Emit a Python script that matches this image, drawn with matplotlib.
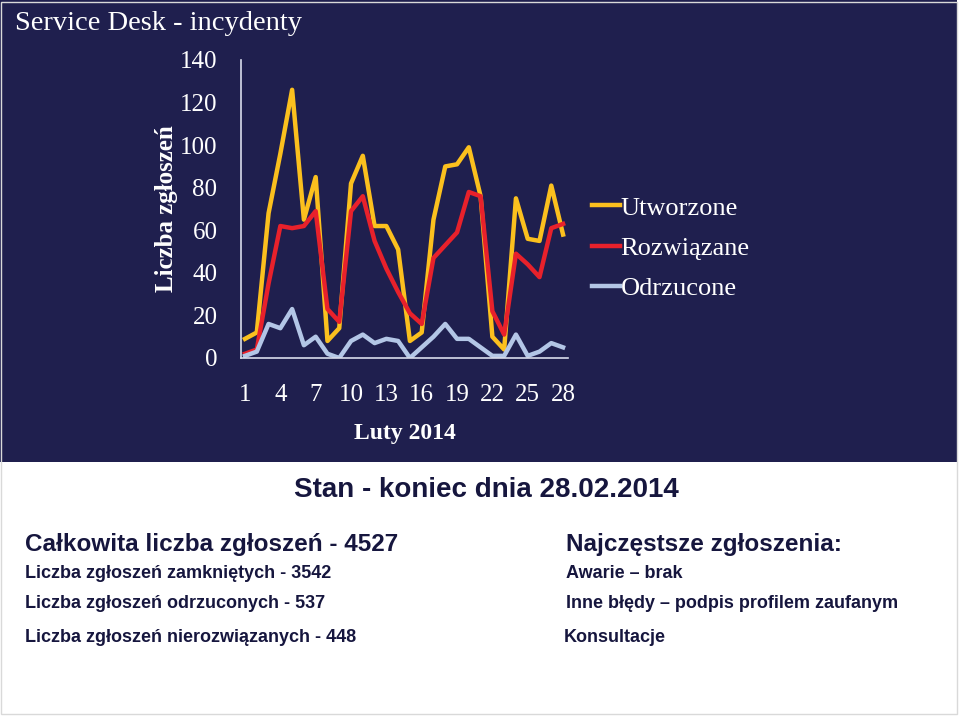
import matplotlib.pyplot as plt
from matplotlib.patches import Rectangle

# Dane - luty 2014
dni = list(range(1, 29))
utworzone = [9, 12, 68, 96, 126, 65, 85, 8, 14, 82, 95, 62, 62, 51, 8, 12, 65, 90, 91, 99, 76, 10, 4, 75, 56, 55, 81, 58]
rozwiazane = [2, 4, 35, 62, 61, 62, 69, 23, 17, 69, 76, 55, 42, 31, 21, 16, 47, 53, 59, 78, 76, 22, 11, 49, 44, 38, 61, 63]
odrzucone = [1, 3, 16, 14, 23, 6, 10, 2, 0, 8, 11, 7, 9, 8, 0, 5, 10, 16, 9, 9, 5, 1, 1, 11, 1, 3, 7, 5]
x_ticks = [1, 4, 7, 10, 13, 16, 19, 22, 25, 28]
y_ticks = [0, 20, 40, 60, 80, 100, 120, 140]

bg = "#1f1f4e"
navy = "#16163e"
serif = ["Liberation Serif", "DejaVu Serif"]
sans = ["Liberation Sans", "DejaVu Sans"]

W, H = 960, 716
fig = plt.figure(figsize=(9.6, 7.16), dpi=100)
fig.patch.set_facecolor("white")

# dark slide panel on top
fig.patches.append(Rectangle((0, 1 - 462 / H), 957 / W, 462 / H, transform=fig.transFigure,
                             facecolor=bg, edgecolor="none", zorder=0))
# thin frame around the slide
fig.patches.append(Rectangle((1 / W, 2 / H), 956 / W, 712 / H, transform=fig.transFigure,
                             facecolor="none", edgecolor="#d9d9d9", lw=1, zorder=0))

fig.text(15 / W, 1 - 23 / H, "Service Desk - incydenty", color="white", fontsize=20.5,
         family=serif, va="center", ha="left")

# chart
ax = fig.add_axes([241 / W, 1 - 358 / H, 327 / W, 298 / H])
ax.set_zorder(5)
ax.set_facecolor("none")
ax.plot(dni, utworzone, color="#fbc01e", lw=3.2, label="Utworzone")
ax.plot(dni, rozwiazane, color="#e8212b", lw=3.2, label="Rozwiązane")
ax.plot(dni, odrzucone, color="#b3c6e6", lw=3.2, label="Odrzucone")
ax.set_xlim(0.66, 28.42)
ax.set_ylim(0, 140)
ax.set_xticks(x_ticks)
ax.set_yticks(y_ticks)
for s in ["top", "right"]:
    ax.spines[s].set_visible(False)
for s in ["left", "bottom"]:
    ax.spines[s].set_color("#d8dcec")
    ax.spines[s].set_linewidth(1.2)
ax.tick_params(length=0, colors="white", labelsize=18)
ax.tick_params(axis="x", pad=19)
ax.tick_params(axis="y", pad=17)
for lbl in ax.get_xticklabels() + ax.get_yticklabels():
    lbl.set_family(serif)
ax.set_xlabel("Luty 2014", color="white", fontsize=17, fontweight="bold", family=serif, labelpad=12)
ax.set_ylabel("Liczba zgłoszeń", color="white", fontsize=18, fontweight="bold", family=serif, labelpad=1.5)

leg = ax.legend(loc="center left", bbox_to_anchor=(1.073, 0.369), frameon=False, borderaxespad=0,
                borderpad=0, handlelength=1.06, handletextpad=0.03, labelspacing=0.63,
                prop={"family": serif, "size": 19})
for t in leg.get_texts():
    t.set_color("white")

# summary text below
fig.text(486 / W, 1 - 490 / H, "Stan - koniec dnia 28.02.2014", color=navy, fontsize=20,
         fontweight="bold", family=sans, ha="center", va="center")
left = [
    ("Całkowita liczba zgłoszeń - 4527", 545, 17.5),
    ("Liczba zgłoszeń zamkniętych - 3542", 574, 13),
    ("Liczba zgłoszeń odrzuconych - 537", 603, 13),
    ("Liczba zgłoszeń nierozwiązanych - 448", 637, 13),
]
right = [
    ("Najczęstsze zgłoszenia:", 566, 545, 17.5),
    ("Awarie – brak", 566, 574, 13),
    ("Inne błędy – podpis profilem zaufanym", 566, 603, 13),
    ("Konsultacje", 564, 637, 13),
]
for txt, y, fs in left:
    fig.text(25 / W, 1 - y / H, txt, color=navy, fontsize=fs, fontweight="bold", family=sans,
             ha="left", va="center")
for txt, x, y, fs in right:
    fig.text(x / W, 1 - y / H, txt, color=navy, fontsize=fs, fontweight="bold", family=sans,
             ha="left", va="center")

fig.savefig("out.png", dpi=100, facecolor=fig.get_facecolor())
